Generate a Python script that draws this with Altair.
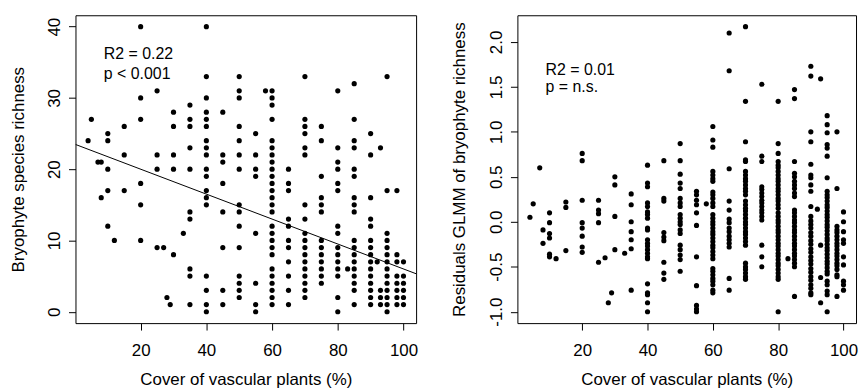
import altair as alt
import pandas as pd

# ---------------- data ----------------
cover_levels = [4, 5, 7, 8, 10, 12, 15, 20, 25, 27, 28, 29, 30, 33, 35, 40, 45, 50,
                55, 58, 60, 65, 70, 75, 80, 83, 85, 90, 92, 93, 95, 98, 100]

richness = [
    [24], [27], [21], [21, 16], [25, 24, 20, 17, 12], [10], [26, 22, 17],
    [40, 30, 27, 18, 15, 10], [31, 22, 20, 9], [9], [2], [1], [28, 26, 22, 20, 8], [11],
    [29, 27, 26, 23, 20, 14, 13, 6, 5, 1],
    [40, 33, 30, 28, 27, 26, 24, 23, 22, 20, 19, 17, 16, 15, 5, 3, 1, 0],
    [28, 22, 21, 18, 14, 9, 3, 1],
    [33, 31, 30, 26, 24, 22, 20, 15, 14, 12, 9, 5, 4, 3, 2],
    [25, 22, 20, 19, 11, 4, 1, 0],
    [31],
    [31, 30, 29, 27, 24, 23, 22, 21, 20, 19, 18, 17, 16, 15, 14, 12, 11, 10, 9, 8, 6, 5, 4, 3, 2, 1],
    [20, 18, 17, 13, 12, 10, 9, 7, 5, 3, 1],
    [33, 27, 26, 25, 23, 22, 15, 13, 11, 10, 9, 8, 7, 6, 5, 4, 3, 2],
    [26, 24, 19, 16, 15, 14, 10, 9, 8, 7, 6, 5, 4],
    [31, 23, 21, 20, 18, 17, 12, 11, 9, 8, 7, 6, 5, 2, 0],
    [6],
    [32, 27, 24, 23, 20, 19, 16, 15, 14, 10, 9, 8, 7, 6, 5, 4, 3, 1],
    [25, 22, 16, 13, 12, 10, 9, 8, 7, 6, 5, 4, 3, 2, 1],
    [7],
    [23, 3, 2, 1],
    [33, 17, 11, 10, 9, 8, 7, 6, 5, 4, 3, 2, 1, 0],
    [17, 8, 7, 5, 4, 3, 2, 1],
    [7, 5, 4, 3, 2, 1],
]

residuals = [
    [0.05], [0.20], [0.60], [-0.09, -0.24], [0.10, -0.01, -0.13, -0.18, -0.36, -0.39], [-0.41],
    [0.22, 0.16, -0.32],
    [0.76, 0.68, 0.24, -0.01, -0.07, -0.16, -0.28, -0.34],
    [0.24, 0.13, 0.09, -0.01, -0.45], [-0.40], [-0.90], [-0.79],
    [0.50, 0.41, 0.06, -0.31], [-0.35],
    [0.31, 0.19, 0.00, -0.11, -0.20, -0.30, -0.76],
    [0.63, 0.43, 0.39, 0.21, 0.17, 0.11, 0.08, 0.04, -0.07, -0.09, -0.20, -0.24, -0.27, -0.31,
     -0.35, -0.39, -0.41, -0.69, -0.79, -0.81, -0.90, -1.00],
    [0.68, 0.26, 0.23, -0.12, -0.17, -0.21, -0.45, -0.57, -0.64],
    [0.87, 0.68, 0.53, 0.43, 0.37, 0.26, 0.21, 0.17, 0.08, 0.04, 0.00, -0.03, -0.09, -0.13,
     -0.26, -0.31, -0.37, -0.42, -0.55],
    [0.34, 0.30, 0.24, 0.19, 0.10, -0.04, -0.39, -0.71, -0.93, -0.97, -1.00],
    [0.20],
    [1.06, 0.91, 0.83, 0.56, 0.52, 0.48, 0.45, 0.33, 0.30, 0.26, 0.21, 0.17, 0.08, 0.04, 0.00,
     -0.03, -0.07, -0.11, -0.14, -0.18, -0.22, -0.26, -0.29, -0.33, -0.37, -0.41, -0.52, -0.55,
     -0.59, -0.63, -0.66, -0.70, -0.76, -0.79],
    [2.10, 1.68, 0.59, 0.23, 0.13, 0.03, -0.01, -0.07, -0.11, -0.16, -0.20, -0.24, -0.28,
     -0.63, -0.76],
    [2.17, 1.34, 0.89, 0.69, 0.67, 0.56, 0.52, 0.48, 0.45, 0.41, 0.37, 0.34, 0.30, 0.23, 0.19,
     0.15, 0.12, 0.08, 0.04, 0.00, -0.03, -0.07, -0.11, -0.14, -0.18, -0.22, -0.26, -0.46,
     -0.50, -0.53, -0.57, -0.61, -0.64],
    [1.53, 0.73, 0.67, 0.39, 0.36, 0.32, 0.28, 0.24, 0.21, 0.17, 0.13, 0.10, 0.06, 0.02,
     -0.26, -0.39, -0.50],
    [1.34, 0.87, 0.76, 0.67, 0.63, 0.60, 0.56, 0.52, 0.48, 0.45, 0.41, 0.37, 0.34, 0.30, 0.26,
     0.23, 0.19, 0.15, 0.10, 0.06, 0.02, -0.01, -0.05, -0.09, -0.12, -0.16, -0.20, -0.24,
     -0.27, -0.31, -0.35, -0.38, -0.42, -0.46, -0.49, -0.53, -0.57, -0.61, -0.64, -1.00],
    [-0.41],
    [1.47, 1.37, 0.67, 0.54, 0.50, 0.45, 0.41, 0.37, 0.32, 0.28, 0.13, 0.10, 0.06, 0.02, -0.01,
     -0.05, -0.09, -0.12, -0.16, -0.20, -0.24, -0.27, -0.31, -0.35, -0.38, -0.42, -0.46, -0.50,
     -0.83],
    [1.73, 1.62, 1.00, 0.89, 0.64, 0.52, 0.49, 0.41, 0.34, 0.17, 0.06, 0.01, -0.03, -0.07,
     -0.12, -0.16, -0.21, -0.25, -0.30, -0.34, -0.39, -0.43, -0.47, -0.52, -0.56, -0.61,
     -0.65, -0.70, -0.74, -0.79, -0.81],
    [0.14],
    [1.59, -0.26, -0.62, -0.90],
    [1.18, 1.08, 0.99, 0.86, 0.82, 0.73, 0.49, 0.34, 0.30, 0.27, 0.23, 0.19, 0.16, 0.12, 0.08,
     0.05, 0.01, -0.03, -0.06, -0.10, -0.14, -0.18, -0.21, -0.25, -0.29, -0.32, -0.36, -0.40,
     -0.44, -0.47, -0.51, -0.55, -0.58, -0.66, -0.70, -0.77, -0.81, -1.00],
    [1.00, 0.37, -0.05, -0.09, -0.12, -0.16, -0.20, -0.24, -0.27, -0.31, -0.35, -0.38, -0.42,
     -0.46, -0.49, -0.53, -0.59, -0.61, -0.83],
    [0.11, 0.00, -0.11, -0.20, -0.24, -0.39, -0.48, -0.66, -0.70, -0.76],
]

fit_intercept = 23.5
fit_slope = -0.175

x_ticks = [20, 40, 60, 80, 100]
rich_ticks = [0, 10, 20, 30, 40]
resid_ticks = [-1.0, -0.5, 0.0, 0.5, 1.0, 1.5, 2.0]

stats_left = ["R2 = 0.22", "p < 0.001"]
stats_left_y = [36.2, 33.3]
stats_right = ["R2 = 0.01", "p = n.s."]
stats_right_y = [1.69, 1.50]
stats_x = 8.8

x_title = "Cover of vascular plants (%)"
left_title = "Bryophyte species richness"
right_title = "Residuals GLMM of bryophyte richness"

# ---------------- tables ----------------
df_rich = pd.DataFrame([(c, v) for c, vals in zip(cover_levels, richness) for v in vals],
                       columns=["cover", "value"])
df_res = pd.DataFrame([(c, v) for c, vals in zip(cover_levels, residuals) for v in vals],
                      columns=["cover", "value"])

x_lo = min(cover_levels) - 0.04 * (max(cover_levels) - min(cover_levels))
x_hi = max(cover_levels) + 0.04 * (max(cover_levels) - min(cover_levels))
df_fit = pd.DataFrame({"cover": [x_lo, x_hi]})


def ext(vals):
    lo = min(min(v) for v in vals)
    hi = max(max(v) for v in vals)
    pad = 0.04 * (hi - lo)
    return [lo - pad, hi + pad]


FONT = "Liberation Sans"
FS = 17
TFS = 17
ANN_FS = 16

xscale = alt.Scale(domain=[x_lo, x_hi], nice=False, zero=False)


def x_enc():
    return alt.X("cover:Q", scale=xscale,
                 axis=alt.Axis(values=x_ticks, title=x_title, grid=False, domain=False,
                               tickSize=7, tickColor="black", tickWidth=1,
                               labelFont=FONT, labelFontSize=FS, labelColor="black",
                               labelPadding=13, labelFlush=False, labelBaseline="top",
                               titleFont=FONT, titleFontSize=TFS, titleColor="black",
                               titleFontWeight="normal", titleBaseline="middle",
                               titleY=57))


def y_axis(title, values, label_expr, title_x):
    return alt.Axis(values=values, title=title, grid=False, domain=False,
                    tickSize=7, tickColor="black", tickWidth=1,
                    labelFont=FONT, labelFontSize=FS, labelColor="black",
                    labelAngle=270, labelAlign="center", labelBaseline="alphabetic",
                    labelPadding=9, labelFlush=False, labelExpr=label_expr,
                    titleFont=FONT, titleFontSize=TFS, titleColor="black",
                    titleFontWeight="normal", titleAngle=270, titleAlign="center",
                    titleBaseline="middle", titleX=title_x)


def panel(df, ydomain, yticks, ytitle, label_expr, title_x, texts, text_y, width, height,
          fit=None):
    yscale = alt.Scale(domain=ydomain, nice=False, zero=False)
    y = alt.Y("value:Q", scale=yscale, axis=y_axis(ytitle, yticks, label_expr, title_x))
    pts = alt.Chart(df).mark_circle(size=27, color="black", opacity=1).encode(x=x_enc(), y=y)
    tdf = pd.DataFrame({"cover": [stats_x] * len(texts), "value": text_y, "label": texts})
    txt = alt.Chart(tdf).mark_text(align="left", baseline="middle", font=FONT,
                                   fontSize=ANN_FS, color="black").encode(
        x=alt.X("cover:Q", scale=xscale), y=alt.Y("value:Q", scale=yscale), text="label:N")
    layers = [pts, txt]
    if fit is not None:
        line = alt.Chart(df_fit).transform_calculate(
            value=f"{fit[0]} + {fit[1]} * datum.cover"
        ).mark_line(color="black", strokeWidth=1, clip=True).encode(
            x=alt.X("cover:Q", scale=xscale), y=alt.Y("value:Q", scale=yscale))
        layers.append(line)
    return alt.layer(*layers).properties(width=width, height=height)


left = panel(df_rich, ext(richness), rich_ticks, left_title,
             "format(datum.value, 'd')", -57, stats_left, stats_left_y, 343, 310,
             fit=(fit_intercept, fit_slope))
right = panel(df_res, ext(residuals), resid_ticks, right_title,
              "datum.value < 0 ? '-' + format(-datum.value, '.1f') : format(datum.value, '.1f')",
              -58, stats_right, stats_right_y, 341, 310)

chart = alt.hconcat(left, right, spacing=32).properties(
    padding={"left": 9, "top": 13, "right": 2, "bottom": 2},
    background="white",
).configure_view(stroke="black", strokeWidth=1).configure_axis(labelOverlap=False)

chart.save("out.html", embed_options={"renderer": "svg", "actions": False})
